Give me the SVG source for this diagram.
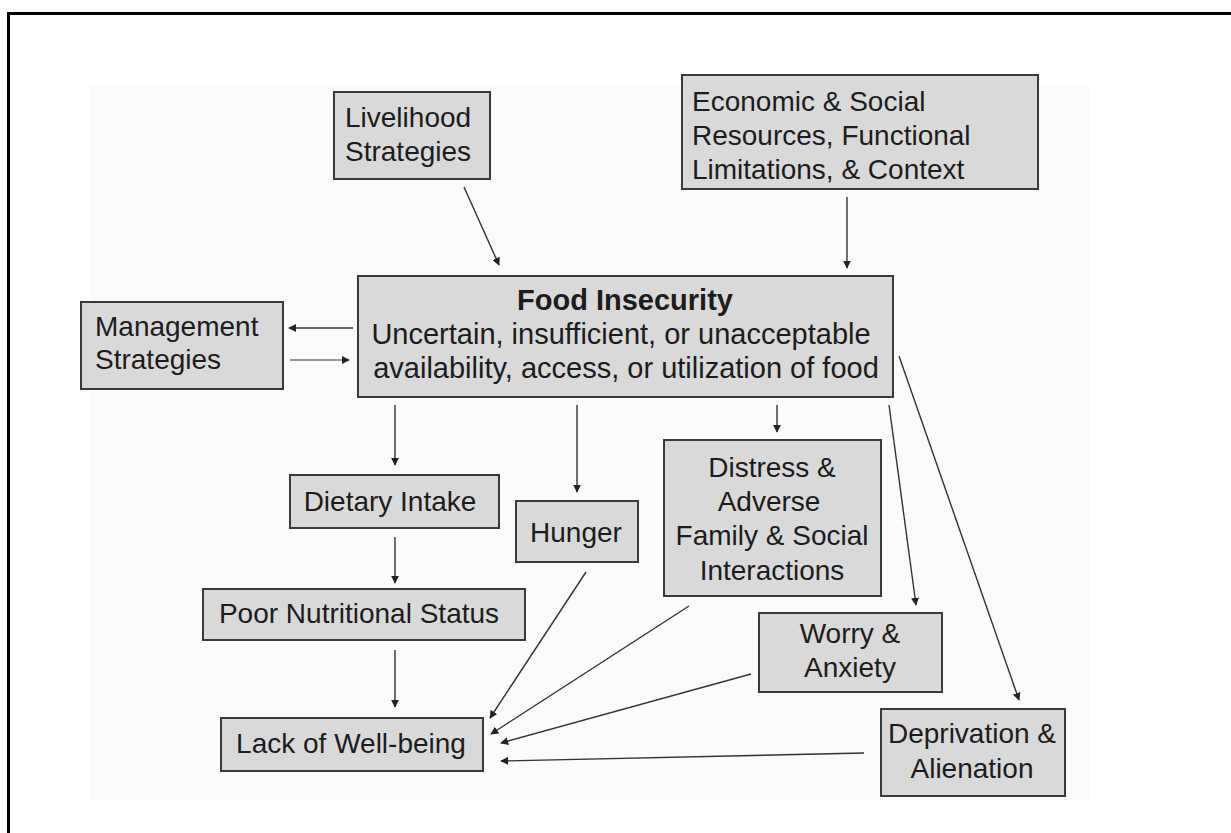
<svg xmlns="http://www.w3.org/2000/svg" width="1231" height="833" viewBox="0 0 1231 833">
  <style>
    .box { fill: #d9d9d9; stroke: #3a3a3a; stroke-width: 2; }
    .lbl { font-family: "Liberation Sans", Arial, sans-serif; font-size: 28px; fill: #1c1c1c; }
    .big { font-size: 29px; }
    .mid { text-anchor: middle; }
    .bold { font-weight: bold; }
    .edge { fill: none; stroke: #333; stroke-width: 1.4; marker-end: url(#head); }
    .edge.light { stroke: #777; }
  </style>
  <defs>
    <marker id="head" viewBox="0 0 10 10" refX="9" refY="5" markerWidth="8" markerHeight="8" markerUnits="userSpaceOnUse" orient="auto">
      <path d="M0,0 L10,5 L0,10 z" fill="#222"/>
    </marker>
  </defs>

  <rect width="1231" height="833" fill="#ffffff"/>
  <!-- page frame (only the top and left edges fall inside the canvas) -->
  <rect x="8.5" y="13.5" width="1300" height="900" fill="none" stroke="#000" stroke-width="3"/>
  <!-- faint figure panel -->
  <rect x="90" y="85" width="1000" height="715" fill="#fbfbfb"/>

  <g id="connectors">
    <line class="edge" x1="464" y1="187" x2="499" y2="265"/>
    <line class="edge" x1="847" y1="197" x2="847" y2="268"/>
    <line class="edge" x1="353" y1="328" x2="289" y2="328"/>
    <line class="edge light" x1="290" y1="360" x2="349" y2="360"/>
    <line class="edge" x1="395" y1="405" x2="395" y2="465"/>
    <line class="edge" x1="577" y1="405" x2="577" y2="492"/>
    <line class="edge" x1="777" y1="405" x2="777" y2="432"/>
    <line class="edge" x1="889" y1="405" x2="916" y2="605"/>
    <line class="edge" x1="899" y1="356" x2="1019" y2="700"/>
    <line class="edge" x1="395" y1="537" x2="395" y2="583"/>
    <line class="edge" x1="395" y1="650" x2="395" y2="707"/>
    <line class="edge" x1="586" y1="572" x2="490" y2="718"/>
    <line class="edge" x1="689" y1="606" x2="491" y2="734"/>
    <line class="edge" x1="751" y1="674" x2="501" y2="743"/>
    <line class="edge" x1="864" y1="753" x2="501" y2="761"/>
  </g>

  <g id="livelihood">
    <rect class="box" x="334" y="92" width="156" height="87"/>
    <text class="lbl" x="345" y="127">Livelihood</text>
    <text class="lbl" x="345" y="161">Strategies</text>
  </g>

  <g id="resources">
    <rect class="box" x="682" y="75" width="356" height="114"/>
    <text class="lbl" x="692" y="111">Economic &amp; Social</text>
    <text class="lbl" x="692" y="145">Resources, Functional</text>
    <text class="lbl" x="692" y="179">Limitations, &amp; Context</text>
  </g>

  <g id="food-insecurity">
    <rect class="box" x="358" y="276" width="535" height="121"/>
    <text class="lbl big mid bold" x="625" y="310">Food Insecurity</text>
    <text class="lbl big mid" x="621" y="344">Uncertain, insufficient, or unacceptable</text>
    <text class="lbl big mid" x="626" y="378">availability, access, or utilization of food</text>
  </g>

  <g id="management">
    <rect class="box" x="81" y="302" width="202" height="87"/>
    <text class="lbl" x="95" y="336">Management</text>
    <text class="lbl" x="95" y="369">Strategies</text>
  </g>

  <g id="dietary-intake">
    <rect class="box" x="290" y="475" width="209" height="53"/>
    <text class="lbl mid" x="390" y="511">Dietary Intake</text>
  </g>

  <g id="hunger">
    <rect class="box" x="516" y="501" width="122" height="61"/>
    <text class="lbl mid" x="576" y="542">Hunger</text>
  </g>

  <g id="distress">
    <rect class="box" x="664" y="440" width="217" height="156"/>
    <text class="lbl mid" x="772" y="477">Distress &amp;</text>
    <text class="lbl mid" x="769" y="511">Adverse</text>
    <text class="lbl mid" x="772" y="545">Family &amp; Social</text>
    <text class="lbl mid" x="772" y="580">Interactions</text>
  </g>

  <g id="nutritional-status">
    <rect class="box" x="203" y="589" width="322" height="51"/>
    <text class="lbl mid" x="359" y="623">Poor Nutritional Status</text>
  </g>

  <g id="worry">
    <rect class="box" x="759" y="613" width="183" height="79"/>
    <text class="lbl mid" x="850" y="643">Worry &amp;</text>
    <text class="lbl mid" x="850" y="677">Anxiety</text>
  </g>

  <g id="well-being">
    <rect class="box" x="221" y="718" width="262" height="53"/>
    <text class="lbl mid" x="351" y="753">Lack of Well-being</text>
  </g>

  <g id="deprivation">
    <rect class="box" x="881" y="709" width="184" height="87"/>
    <text class="lbl mid" x="972" y="743">Deprivation &amp;</text>
    <text class="lbl mid" x="972" y="778">Alienation</text>
  </g>
</svg>
